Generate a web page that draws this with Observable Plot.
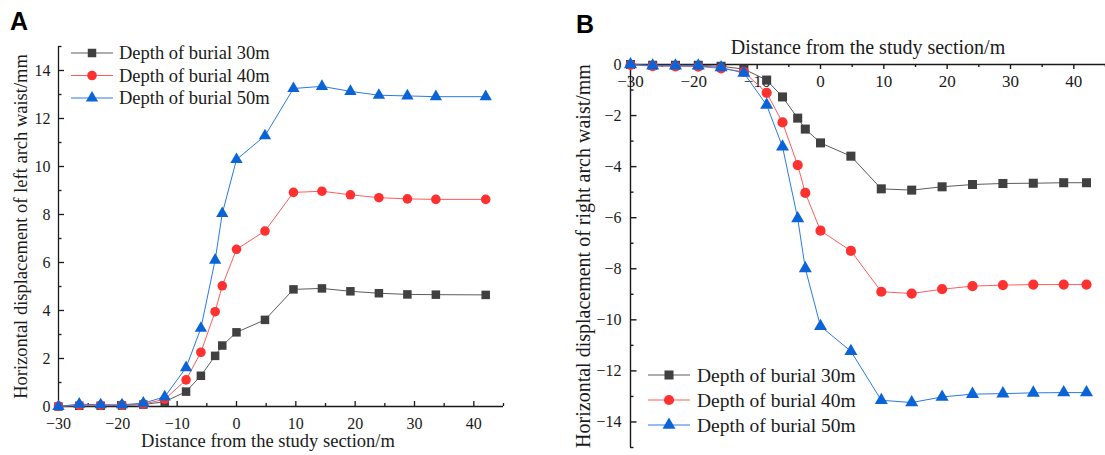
<!DOCTYPE html>
<html><head><meta charset="utf-8">
<script src="https://cdn.jsdelivr.net/npm/d3@7"></script>
<script src="https://cdn.jsdelivr.net/npm/@observablehq/plot@0.6"></script>
<style>
html,body{margin:0;padding:0;background:#fff;}
body{width:1105px;height:455px;overflow:hidden;position:relative;font-family:"Liberation Serif","Times New Roman",serif;}
.panel{position:absolute;top:0;}
.tag{position:absolute;font-family:"Liberation Sans",Arial,sans-serif;font-weight:bold;font-size:25px;line-height:1;color:#000;}
.legend{position:absolute;left:0;top:0;pointer-events:none;}
</style></head><body>
<div id="A" class="panel" style="left:0px"></div>
<div id="B" class="panel" style="left:560px"></div>
<div class="tag" style="left:10px;top:9px">A</div>
<div class="tag" style="left:576px;top:12px">B</div>
<script>
// ---- data ----
const seriesNames = ["Depth of burial 30m", "Depth of burial 40m", "Depth of burial 50m"];
const markerColors = ["#404040", "#ff3030", "#0a64d8"];
const lineColors = ["#5c5c5c", "#ff5c5c", "#2a7ae2"];
const symbols = ["square", "circle", "triangle"];

const distLeft = [-30, -26.5, -22.9, -19.3, -15.7, -12.1, -8.5, -6, -3.6, -2.4, 0, 4.8, 9.6, 14.4, 19.2, 24, 28.8, 33.6, 42];
const leftD30 = [0.0, 0.03, 0.03, 0.04, 0.08, 0.2, 0.62, 1.28, 2.11, 2.54, 3.09, 3.61, 4.88, 4.92, 4.8, 4.72, 4.67, 4.66, 4.65];
const leftD40 = [0.02, 0.05, 0.05, 0.06, 0.1, 0.3, 1.11, 2.26, 3.95, 5.03, 6.55, 7.31, 8.92, 8.97, 8.82, 8.7, 8.65, 8.63, 8.63];
const leftD50 = [0.0, 0.1, 0.07, 0.07, 0.14, 0.4, 1.62, 3.26, 6.1, 8.04, 10.29, 11.28, 13.25, 13.34, 13.13, 12.97, 12.94, 12.91, 12.91];

const distRight = [-30, -26.5, -22.9, -19.3, -15.7, -12.1, -8.5, -6, -3.6, -2.4, 0, 4.8, 9.6, 14.4, 19.2, 24, 28.8, 33.6, 38.4, 42];
const rightD30 = [0.0, -0.03, -0.03, -0.03, -0.07, -0.18, -0.61, -1.27, -2.1, -2.53, -3.07, -3.59, -4.87, -4.92, -4.79, -4.7, -4.66, -4.65, -4.63, -4.63];
const rightD40 = [-0.02, -0.06, -0.07, -0.08, -0.15, -0.29, -1.11, -2.27, -3.94, -5.03, -6.51, -7.3, -8.9, -8.97, -8.8, -8.68, -8.64, -8.62, -8.62, -8.62];
const rightD50 = [0.0, -0.05, -0.05, -0.05, -0.12, -0.33, -1.59, -3.22, -6.03, -7.99, -10.25, -11.23, -13.15, -13.24, -13.02, -12.91, -12.89, -12.86, -12.85, -12.85];

const xMajor = [-30, -20, -10, 0, 10, 20, 30, 40];
const xMinor = [-25, -15, -5, 5, 15, 25, 35, 45];
const yMajorLeft = [0, 2, 4, 6, 8, 10, 12, 14];
const yMinorLeft = [1, 3, 5, 7, 9, 11, 13, 15];
const yMajorRight = [0, -2, -4, -6, -8, -10, -12, -14];
const yMinorRight = [-1, -3, -5, -7, -9, -11, -13, -15];

const xTitle = "Distance from the study section/m";
const yTitleLeft = "Horizontal displacement of left arch waist/mm";
const yTitleRight = "Horizontal displacement of right arch waist/mm";

// ---- helpers ----
const fmt = d3.format("d");
const rowsOf = (xs, ys) => xs.map((x, i) => ({x, y: ys[i]}));
const ink = "#1a1a1a";
const serif = "'Liberation Serif','Times New Roman',serif";

function seriesMarks(xs, ysList, r) {
  const marks = [];
  ysList.forEach((ys, i) => {
    const rows = rowsOf(xs, ys);
    marks.push(Plot.line(rows, {x: "x", y: "y", stroke: lineColors[i], strokeWidth: 1}));
    marks.push(Plot.dot(rows, {x: "x", y: "y", fill: markerColors[i], stroke: "none", symbol: symbols[i], r: symbols[i] === "triangle" ? r * 0.95 : r}));
  });
  return marks;
}

// ---- panel A ----
{
  const W = 540, H = 455, mL = 58, mR = 37, mT = 46, mB = 49;
  const pW = W - mL - mR, pH = H - mT - mB;
  const chart = Plot.plot({
    width: W, height: H, marginLeft: mL, marginRight: mR, marginTop: mT, marginBottom: mB,
    style: {fontFamily: serif, fontSize: "16px", color: ink, background: "transparent", overflow: "visible"},
    x: {domain: [-30, 45]},
    y: {domain: [0, 15]},
    marks: [
      Plot.ruleY([0], {stroke: ink, strokeWidth: 1.3}),
      Plot.ruleX([-30], {stroke: ink, strokeWidth: 1.3}),
      Plot.tickX(xMajor, {x: d => d, insetTop: pH - 5, stroke: ink, strokeWidth: 1.3}),
      Plot.tickX(xMinor, {x: d => d, insetTop: pH - 3, stroke: ink, strokeWidth: 1.3}),
      Plot.tickY(yMajorLeft, {y: d => d, insetRight: pW - 6, stroke: ink, strokeWidth: 1.3}),
      Plot.tickY(yMinorLeft, {y: d => d, insetRight: pW - 3.5, stroke: ink, strokeWidth: 1.3}),
      Plot.axisX({ticks: xMajor, tickSize: 0, tickPadding: 11, tickFormat: fmt, label: null, fontSize: 16}),
      Plot.axisY({ticks: yMajorLeft, tickSize: 0, tickPadding: 8, tickFormat: fmt, label: null, fontSize: 16}),
      Plot.text([xTitle], {frameAnchor: "bottom", dy: 35, dx: -13, lineAnchor: "middle", textAnchor: "middle", text: d => d, fontSize: 18.5, fill: ink}),
      Plot.text([yTitleLeft], {frameAnchor: "left", dx: -37, rotate: -90, lineAnchor: "middle", textAnchor: "middle", text: d => d, fontSize: 18.5, fill: ink}),
      ...seriesMarks(distLeft, [leftD30, leftD40, leftD50], 4.8)
    ]
  });
  document.getElementById("A").append(chart);
}

// ---- panel B ----
{
  const W = 545, H = 455, mL = 70, mR = 0, mT = 64, mB = 8;
  const pW = W - mL - mR, pH = H - mT - mB;
  const chart = Plot.plot({
    width: W, height: H, marginLeft: mL, marginRight: mR, marginTop: mT, marginBottom: mB,
    style: {fontFamily: serif, fontSize: "16px", color: ink, background: "transparent", overflow: "visible"},
    x: {domain: [-30, 45], axis: null},
    y: {domain: [-15, 0]},
    marks: [
      Plot.ruleY([0], {stroke: ink, strokeWidth: 1.4}),
      Plot.ruleX([-30], {stroke: ink, strokeWidth: 1.4}),
      Plot.tickX(xMajor, {x: d => d, insetBottom: pH - 5, stroke: ink, strokeWidth: 1.4}),
      Plot.tickX(xMinor, {x: d => d, insetBottom: pH - 3, stroke: ink, strokeWidth: 1.4}),
      Plot.tickY(yMajorRight, {y: d => d, insetRight: pW - 6.5, stroke: ink, strokeWidth: 1.4}),
      Plot.tickY(yMinorRight, {y: d => d, insetRight: pW - 3.5, stroke: ink, strokeWidth: 1.4}),
      Plot.text(xMajor, {x: d => d, frameAnchor: "top", dy: 10, lineAnchor: "top", textAnchor: "middle", text: d => fmt(d), fontSize: 17, fill: ink}),
      Plot.axisY({ticks: yMajorRight, tickSize: 0, tickPadding: 9, tickFormat: fmt, label: null, fontSize: 16}),
      Plot.text([xTitle], {frameAnchor: "top", dy: -17, lineAnchor: "middle", textAnchor: "middle", text: d => d, fontSize: 20, fill: ink}),
      Plot.text([yTitleRight], {frameAnchor: "left", dx: -47, rotate: -90, lineAnchor: "middle", textAnchor: "middle", text: d => d, fontSize: 20, fill: ink}),
      ...seriesMarks(distRight, [rightD30, rightD40, rightD50], 5.1)
    ]
  });
  document.getElementById("B").append(chart);
}

// ---- legends (overlay) ----
function legend(cfg) {
  const svg = d3.select("body").append("svg").attr("class", "legend")
    .attr("width", 1105).attr("height", 455);
  seriesNames.forEach((name, i) => {
    const y = cfg.y0 + i * cfg.dy;
    svg.append("line").attr("x1", cfg.x0).attr("x2", cfg.x1).attr("y1", y).attr("y2", y)
      .attr("stroke", lineColors[i]).attr("stroke-width", 1);
    const sym = {square: d3.symbolSquare, circle: d3.symbolCircle, triangle: d3.symbolTriangle}[symbols[i]];
    const r = symbols[i] === "triangle" ? cfg.r * 0.95 : cfg.r;
    svg.append("path").attr("d", d3.symbol(sym, Math.PI * r * r)())
      .attr("transform", `translate(${(cfg.x0 + cfg.x1) / 2},${y})`).attr("fill", markerColors[i]);
    svg.append("text").attr("x", cfg.tx).attr("y", y).attr("dy", "0.34em")
      .attr("font-family", serif)
      .attr("font-size", cfg.fs).attr("fill", ink).text(name);
  });
}
legend({x0: 71, x1: 113, tx: 119, y0: 53, dy: 22.5, r: 4.8, fs: 18.5});
legend({x0: 648, x1: 690, tx: 697, y0: 375, dy: 25, r: 5.1, fs: 19.5});
</script>
</body></html>
